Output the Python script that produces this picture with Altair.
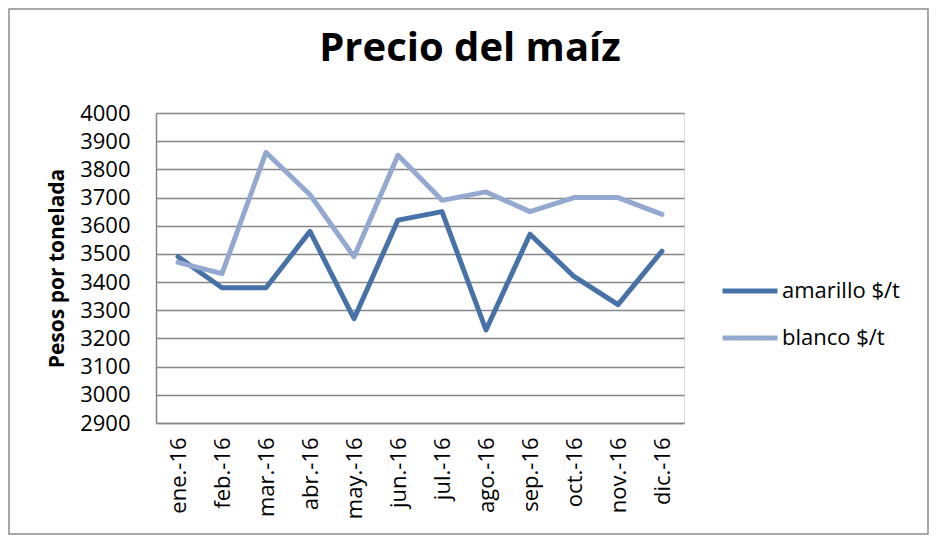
import altair as alt
import pandas as pd

months = ["ene.-16", "feb.-16", "mar.-16", "abr.-16", "may.-16", "jun.-16",
          "jul.-16", "ago.-16", "sep.-16", "oct.-16", "nov.-16", "dic.-16"]
amarillo = [3490, 3380, 3380, 3580, 3270, 3620, 3650, 3230, 3570, 3420, 3320, 3510]
blanco = [3470, 3430, 3860, 3710, 3490, 3850, 3690, 3720, 3650, 3700, 3700, 3640]
series_names = ["amarillo $/t", "blanco $/t"]
series_colors = ["#4672A8", "#93A9CF"]
y_ticks = list(range(2900, 4001, 100))

rows = []
for name, vals in zip(series_names, [amarillo, blanco]):
    for m, v in zip(months, vals):
        rows.append({"mes": m, "serie": name, "valor": v})
df = pd.DataFrame(rows)

FONT = "Open Sans"
GRID = "#868686"

lines = alt.Chart(df).mark_line(strokeWidth=5, strokeCap="round", strokeJoin="round").encode(
    x=alt.X("mes:O", sort=months,
            axis=alt.Axis(title=None, labelAngle=-90, labelFontSize=22, labelFont=FONT,
                          labelColor="#000", ticks=False, labelPadding=14,
                          domainColor=GRID, domainWidth=1.5)),
    y=alt.Y("valor:Q", scale=alt.Scale(domain=[2900, 4000], nice=False, zero=False),
            axis=alt.Axis(values=y_ticks, format="d", title="Pesos por tonelada", titleFont=FONT,
                          titleFontSize=21, titleFontWeight="bold", titleColor="#000",
                          titleAngle=-90, titleX=-99, titleY=155, titleAlign="center",
                          titleBaseline="middle",
                          labelFontSize=22, labelFont=FONT, labelColor="#000",
                          ticks=False, labelPadding=26, grid=True, gridColor=GRID,
                          gridWidth=1.5, domainColor=GRID, domainWidth=1.5)),
    color=alt.Color("serie:N", scale=alt.Scale(domain=series_names, range=series_colors),
                    legend=alt.Legend(title=None, orient="none", legendX=564, legendY=148,
                                      symbolType="stroke", symbolSize=3025, rowPadding=6,
                                      symbolStrokeWidth=5, labelFontSize=22, labelFont=FONT,
                                      labelColor="#000", labelOffset=2)),
)

border = alt.Chart(alt.Data(values=[{}])).mark_rect(fill="transparent", stroke="#8C8C8C",
                                                    strokeWidth=1.5).encode(
    x=alt.value(-147), x2=alt.value(772), y=alt.value(-104), y2=alt.value(421)
)

chart = alt.layer(border, lines).properties(
    width=528, height=310,
    padding={"left": 148, "top": 105, "right": 245, "bottom": 112},
    autosize="none",
    title=alt.TitleParams("Precio del maíz", font=FONT, fontSize=40, fontWeight="bold",
                          color="#000", anchor="middle", dx=50, frame="group",
                          baseline="alphabetic", offset=43, dy=136),
).configure_view(stroke=None).configure(background="white")

chart.save("out.html", embed_options={"renderer": "svg", "actions": False})
